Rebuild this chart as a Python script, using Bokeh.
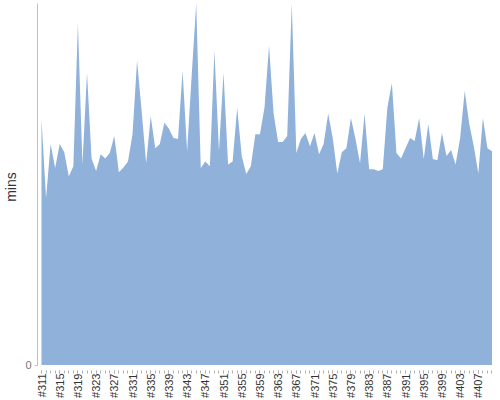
import math
from bokeh.plotting import figure
from bokeh.models import ColumnDataSource, Range1d, FixedTicker, LinearAxis
from bokeh.embed import file_html
from bokeh.resources import INLINE

# ---- data ----
run_ids = list(range(311, 411))  # runs #311 .. #410
minutes = [
    40.8, 27.7, 36.7, 32.7, 36.7, 35.3, 31.3, 33.0, 56.7, 33.3,
    48.5, 34.3, 32.2, 35.0, 34.3, 35.2, 38.0, 32.0, 32.8, 33.8,
    38.3, 50.5, 42.2, 33.5, 41.3, 36.0, 36.7, 40.2, 39.2, 37.7,
    37.5, 48.8, 35.5, 48.0, 60.0, 32.7, 33.8, 33.0, 52.2, 35.5,
    48.5, 33.3, 33.8, 42.7, 34.7, 31.7, 33.0, 38.3, 38.3, 42.7,
    53.0, 41.8, 37.0, 37.0, 38.0, 60.0, 35.2, 37.5, 38.5, 36.3,
    38.5, 35.0, 36.7, 41.7, 37.7, 31.8, 35.3, 36.0, 41.0, 37.5,
    33.5, 41.7, 32.5, 32.5, 32.2, 32.5, 42.7, 46.8, 35.2, 34.3,
    36.0, 37.7, 37.2, 41.0, 34.2, 40.0, 34.2, 34.0, 38.5, 34.7,
    35.7, 33.3, 37.7, 45.5, 40.0, 36.3, 31.8, 41.0, 36.0, 35.5,
]
y_ticks = [0]
y_max = 60
label_step = 4

labels = ["#%d" % r for r in run_ids]
idx = list(range(len(run_ids)))
src = ColumnDataSource(dict(x=idx, y=minutes, run=labels))

p = figure(width=500, height=400, output_backend="svg", toolbar_location=None,
           x_range=Range1d(-0.88, len(idx) - 1 + 0.11),
           y_range=Range1d(-0.9, y_max),
           x_axis_type=None, y_axis_type=None,
           min_border_left=0, min_border_right=8, min_border_top=3, min_border_bottom=0,
           outline_line_color=None, background_fill_color="white")

p.varea(x="x", y1=0, y2="y", source=src, fill_color="#8fb1da", fill_alpha=1.0)

major = idx[::label_step]
xaxis = LinearAxis(ticker=FixedTicker(ticks=major, minor_ticks=idx),
                   major_label_overrides={i: labels[i] for i in major},
                   major_label_orientation=math.pi / 2,
                   axis_line_color=None,
                   major_tick_line_color="#b0b0b0", minor_tick_line_color="#b0b0b0",
                   major_tick_in=0, major_tick_out=3, minor_tick_in=0, minor_tick_out=3,
                   major_label_standoff=0,
                   major_label_text_font="Liberation Sans",
                   major_label_text_font_size="11px",
                   major_label_text_color="#333333")
p.add_layout(xaxis, "below")

yaxis = LinearAxis(ticker=FixedTicker(ticks=y_ticks), bounds=(0, y_max),
                   axis_label="mins",
                   axis_label_text_font="Liberation Sans",
                   axis_label_text_font_size="14px",
                   axis_label_text_font_style="normal",
                   axis_label_text_color="#333333",
                   axis_label_standoff=3,
                   axis_line_color="#c0c0c0",
                   major_tick_line_color="#c0c0c0", major_tick_in=0, major_tick_out=3,
                   minor_tick_line_color=None,
                   major_label_standoff=3,
                   major_label_text_font="Liberation Sans",
                   major_label_text_font_size="11px",
                   major_label_text_color="#777777")
p.add_layout(yaxis, "left")

open("out.html", "w").write(file_html(p, INLINE))
